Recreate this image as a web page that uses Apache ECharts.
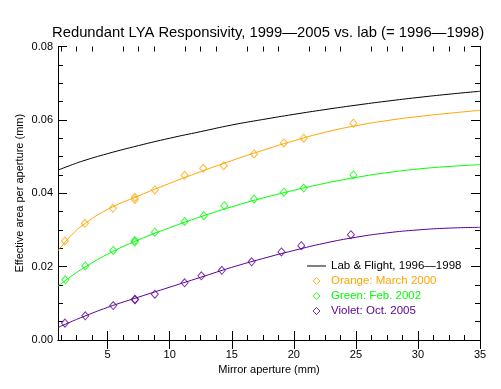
<!DOCTYPE html>
<html><head><meta charset="utf-8">
<script src="https://cdn.jsdelivr.net/npm/echarts@6/dist/echarts.min.js"></script>
<style>html,body{margin:0;padding:0;background:#fff}#c{width:501px;height:389px}</style>
</head><body><div id="c"></div>
<script>
// Tick labels
const xMajorTicks = [5, 10, 15, 20, 25, 30, 35];
const xMinorTicks = [1.25, 2.5, 3.75, 6.25, 7.5, 8.75, 11.25, 12.5, 13.75, 16.25, 17.5, 18.75,
  21.25, 22.5, 23.75, 26.25, 27.5, 28.75, 31.25, 32.5, 33.75];

// Fitted curves
const fitX      = [1, 2, 3, 5, 7.5, 10, 12.5, 15, 17.5, 20, 22.5, 25, 27.5, 30, 32.5, 35];
const labFlight = [0.0463, 0.0476, 0.0488, 0.0508, 0.0530, 0.0550, 0.0568, 0.0586, 0.0601, 0.0615, 0.0628, 0.0640, 0.0651, 0.0661, 0.0670, 0.0678];
const orangeFit = [0.0243, 0.0283, 0.0313, 0.0356, 0.0393, 0.0427, 0.0459, 0.0489, 0.0517, 0.0543, 0.0566, 0.0584, 0.0598, 0.0609, 0.0618, 0.0626];
const greenFit  = [0.0147, 0.0172, 0.0195, 0.0234, 0.0273, 0.0306, 0.0336, 0.0363, 0.0387, 0.0408, 0.0427, 0.0443, 0.0456, 0.0466, 0.0473, 0.0478];
const violetFit = [0.0034, 0.0049, 0.0063, 0.0089, 0.0117, 0.0144, 0.0171, 0.0198, 0.0222, 0.0244, 0.0264, 0.0280, 0.0292, 0.0300, 0.0305, 0.0307];

// Measurements
const orangeX = [1.56, 3.17, 5.42, 7.19, 7.19, 8.8, 11.2, 12.7, 14.35, 16.8, 19.2, 20.8, 24.8];
const orangeY = [0.0270, 0.0318, 0.0359, 0.0389, 0.0383, 0.0409, 0.0449, 0.0468, 0.0475, 0.0507, 0.0537, 0.0550, 0.0591];
const greenX  = [1.59, 3.2, 5.45, 7.19, 7.19, 8.8, 11.2, 12.75, 14.4, 16.8, 19.2, 20.8, 24.8];
const greenY  = [0.0164, 0.0202, 0.0244, 0.0271, 0.0267, 0.0294, 0.0323, 0.0339, 0.0366, 0.0384, 0.0403, 0.0414, 0.0450];
const violetX = [1.56, 3.2, 5.45, 7.2, 7.2, 8.8, 11.2, 12.55, 14.2, 16.6, 19.0, 20.6, 24.6];
const violetY = [0.0046, 0.0066, 0.0094, 0.0111, 0.0110, 0.0125, 0.0156, 0.0175, 0.0190, 0.0213, 0.0240, 0.0257, 0.0287];

const names = ['Lab & Flight, 1996\u20141998', 'Orange: March 2000', 'Green: Feb. 2002', 'Violet: Oct. 2005'];
const cOrange = '#ffa500', cGreen = '#00ff00', cViolet = '#5a0096';
const FONT = 'Liberation Sans, Arial, sans-serif';
const DIAMOND = 'path://M4,0L8,4L4,8L0,4Z';

function zip(a, b) { return a.map((v, i) => [v, b[i]]); }

const axLine = { show: true, lineStyle: { color: '#000', width: 1 } };
function xAx(pos, ticks, len, labels, line) {
  return {
    type: 'value', position: pos, min: 1, max: 35,
    axisLine: line ? axLine : { show: false },
    splitLine: { show: false },
    axisTick: { show: true, inside: true, length: len, customValues: ticks, lineStyle: { color: '#000' } },
    axisLabel: labels ? { show: true, customValues: ticks, color: '#000', fontFamily: FONT, fontSize: 11, margin: 9 } : { show: false },
    name: labels ? 'Mirror aperture (mm)' : '', nameLocation: 'middle', nameGap: 22,
    nameTextStyle: { color: '#000', fontFamily: FONT, fontSize: 11 }
  };
}
function yAx(pos, labels) {
  return {
    type: 'value', position: pos, min: 0, max: 0.08, interval: 0.02,
    axisLine: axLine, splitLine: { show: false },
    axisTick: { show: true, inside: true, length: 9, lineStyle: { color: '#000' } },
    minorTick: { show: true, splitNumber: 4, length: 5, lineStyle: { color: '#000' } },
    axisLabel: labels ? { show: true, color: '#000', fontFamily: FONT, fontSize: 11, margin: 5,
      formatter: v => v.toFixed(2) } : { show: false },
    name: labels ? 'Effective area per aperture (mm)' : '', nameLocation: 'middle', nameGap: 33,
    nameMoveOverlap: false,
    nameTextStyle: { color: '#000', fontFamily: FONT, fontSize: 11 }
  };
}

function lineS(name, data, color) {
  return { name: name, type: 'line', data: zip(fitX, data), smooth: true, symbol: 'none',
    lineStyle: { color: color, width: 1 }, itemStyle: { color: color }, silent: true, z: 2 };
}
function scat(name, xs, ys, color) {
  return { name: name, type: 'scatter', data: zip(xs, ys), symbol: 'diamond', symbolSize: [7, 8],
    itemStyle: { color: 'rgba(0,0,0,0)', borderColor: color, borderWidth: 1 }, z: 3 };
}
function legItem(name, color) {
  return { name: name, icon: DIAMOND, itemStyle: { color: 'rgba(0,0,0,0)', borderColor: color, borderWidth: 1 }, textStyle: { color: color } };
}

const chart = echarts.init(document.getElementById('c'), null, { renderer: 'canvas' });
chart.setOption({
  animation: false,
  backgroundColor: '#fff',
  title: { text: 'Redundant LYA Responsivity, 1999\u20142005 vs. lab (= 1996\u20141998)', left: 47, top: 20,
    textStyle: { color: '#000', fontFamily: FONT, fontSize: 14.8, fontWeight: 'normal' } },
  grid: { left: 58, right: 21, top: 46.5, bottom: 49, containLabel: false },
  legend: {
    orient: 'vertical', left: 302, top: 255, itemWidth: 19, itemHeight: 7, itemGap: 3,
    symbolKeepAspect: true,
    textStyle: { fontFamily: FONT, fontSize: 11.5 },
    data: [
      { name: names[0], icon: 'path://M0,0L19,0L19,1L0,1Z', itemStyle: { color: '#000' }, textStyle: { color: '#000' } },
      legItem(names[1], cOrange),
      legItem(names[2], cGreen),
      legItem(names[3], cViolet)
    ],
    selectedMode: false
  },
  xAxis: [
    xAx('bottom', xMajorTicks, 9, true, true),
    xAx('top', xMajorTicks, 9, false, true),
    xAx('bottom', xMinorTicks, 5, false, false),
    xAx('top', xMinorTicks, 5, false, false)
  ],
  yAxis: [ yAx('left', true), yAx('right', false) ],
  series: [
    lineS(names[0], labFlight, '#000'),
    lineS('orangeFit', orangeFit, cOrange),
    lineS('greenFit', greenFit, cGreen),
    lineS('violetFit', violetFit, cViolet),
    scat(names[1], orangeX, orangeY, cOrange),
    scat(names[2], greenX, greenY, cGreen),
    scat(names[3], violetX, violetY, cViolet)
  ]
});
</script></body></html>
